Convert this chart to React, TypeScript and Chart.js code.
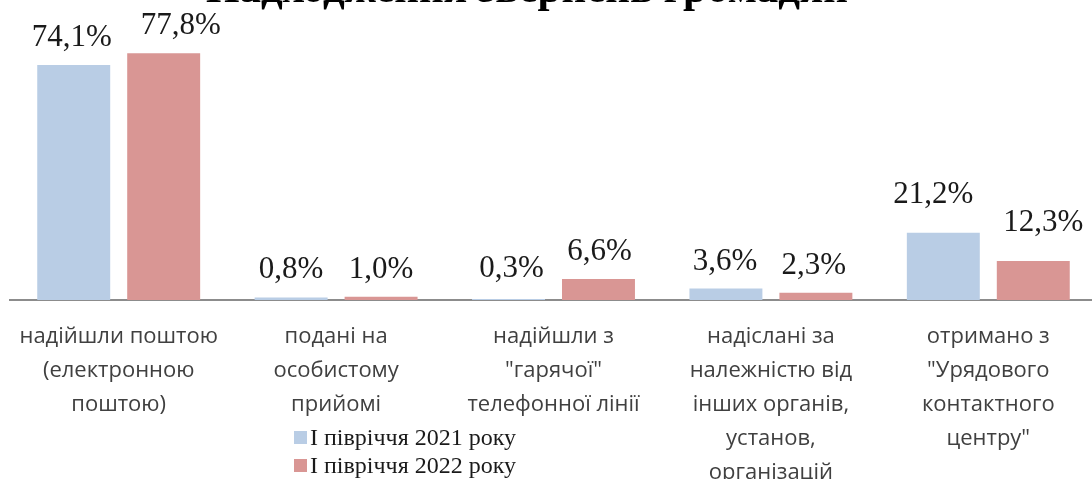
import React, { useEffect, useRef } from "react";
import { Chart, registerables } from "chart.js";

Chart.register(...registerables);

const titleText = "Надходження звернень громадян";
const categories: string[][] = [
  ["надійшли поштою", "(електронною", "поштою)"],
  ["подані на", "особистому", "прийомі"],
  ["надійшли з", "\"гарячої\"", "телефонної лінії"],
  ["надіслані за", "належністю від", "інших органів,", "установ,", "організацій"],
  ["отримано з", "\"Урядового", "контактного", "центру\""],
];
const seriesNames = ["І півріччя 2021 року", "І півріччя 2022 року"];
const values2021 = [74.1, 0.8, 0.3, 3.6, 21.2];
const values2022 = [77.8, 1.0, 6.6, 2.3, 12.3];
const colors = ["#B9CDE5", "#D99694"];

// manual label placement tweaks (dx, dy) as in the original document
const labelShift: number[][][] = [
  [[-2, 0], [0, 0], [3, -3], [-1, 0], [-10, -11]],
  [[17, 0], [0, 0], [1, 0], [-2, 0], [10, -11]],
];

const fmt = (v: number) => v.toFixed(1).replace(".", ",") + "%";

const overlayPlugin = {
  id: "overlay",
  afterDraw(chart: any) {
    const ctx = chart.ctx as CanvasRenderingContext2D;
    ctx.save();
    // title (cut off at top as in the reference)
    ctx.font = "bold 43px 'Liberation Serif'";
    ctx.fillStyle = "#000";
    ctx.textAlign = "center";
    ctx.textBaseline = "alphabetic";
    ctx.fillText(titleText, 527, 2);

    // data labels
    ctx.font = "31px 'Liberation Serif'";
    ctx.fillStyle = "#1a1a1a";
    ctx.textAlign = "center";
    chart.data.datasets.forEach((ds: any, di: number) => {
      const meta = chart.getDatasetMeta(di);
      meta.data.forEach((bar: any, i: number) => {
        const [dx, dy] = labelShift[di][i];
        ctx.fillText(fmt(ds.data[i]), bar.x + dx, bar.y - 19 + dy);
      });
    });

    // legend
    ctx.font = "24px 'Liberation Serif'";
    ctx.textAlign = "left";
    ctx.textBaseline = "middle";
    seriesNames.forEach((name, i) => {
      const cy = 438 + i * 28;
      ctx.fillStyle = colors[i];
      ctx.fillRect(294, cy - 7, 13, 13);
      ctx.fillStyle = "#1a1a1a";
      ctx.fillText(name, 310, cy + 1);
    });
    ctx.restore();
  },
};

export default function App() {
  const ref = useRef<HTMLCanvasElement | null>(null);
  useEffect(() => {
    if (!ref.current) return;
    const chart = new Chart(ref.current, {
      type: "bar",
      data: {
        labels: categories,
        datasets: [
          { label: seriesNames[0], data: values2021, backgroundColor: colors[0] },
          { label: seriesNames[1], data: values2022, backgroundColor: colors[1] },
        ],
      },
      options: {
        responsive: false,
        animation: false,
        devicePixelRatio: 1,
        layout: { padding: { left: 10, right: 3, top: 45, bottom: 0 } },
        datasets: {
          bar: { categoryPercentage: 0.8276, barPercentage: 0.811 },
        },
        plugins: {
          legend: { display: false },
          title: { display: false },
          tooltip: { enabled: false },
        },
        scales: {
          x: {
            z: 1,
            grid: { display: false, drawTicks: false },
            border: { display: true, color: "#8c8c8c", width: 2 },
            ticks: {
              color: "#404040",
              padding: 20,
              maxRotation: 0,
              autoSkip: false,
              font: { family: "'Open Sans'", size: 22, lineHeight: 34 / 22 },
            },
            afterFit: (scale: any) => {
              scale.height = 220;
              scale.paddingLeft = 0;
              scale.paddingRight = 0;
            },
          },
          y: { display: false, min: 0, max: 80.4 },
        },
      },
      plugins: [overlayPlugin],
    });
    return () => chart.destroy();
  }, []);
  return (
    <div style={{ position: "fixed", left: 0, top: 0, width: 1092, height: 479, overflow: "hidden", background: "#fff" }}>
      <canvas ref={ref} width={1100} height={520} style={{ display: "block" }} />
    </div>
  );
}
